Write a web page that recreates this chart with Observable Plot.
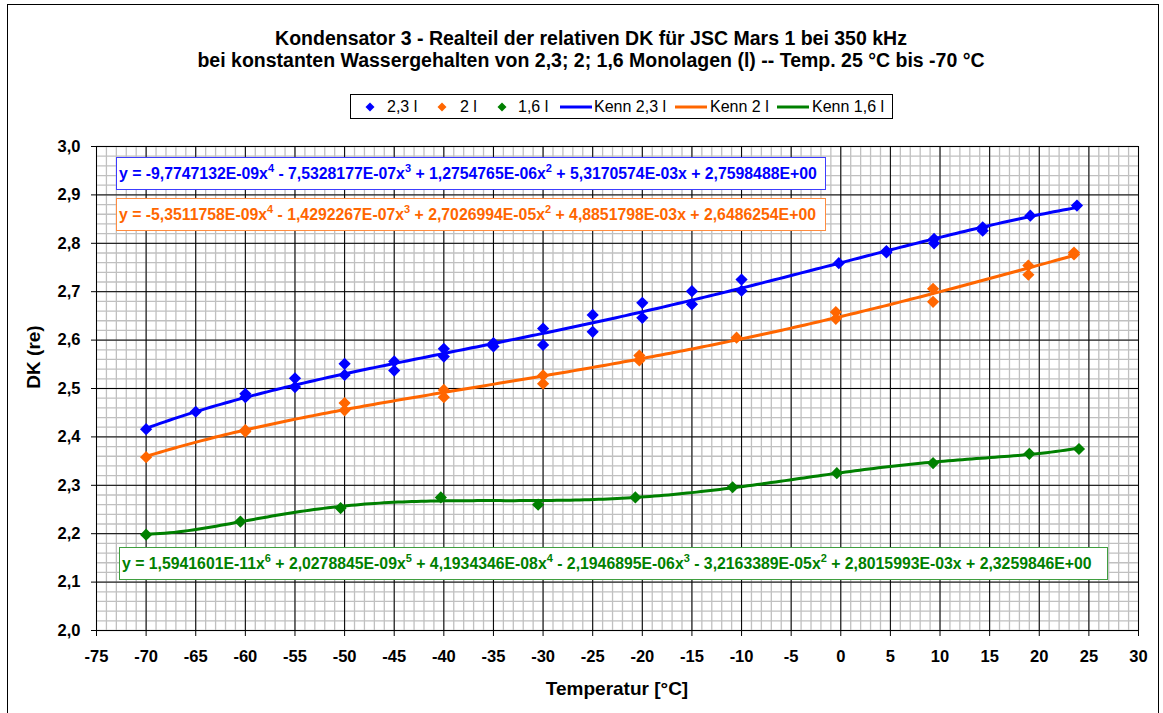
<!DOCTYPE html>
<html>
<head>
<meta charset="utf-8">
<script src="https://cdn.jsdelivr.net/npm/d3@7"></script>
<script src="https://cdn.jsdelivr.net/npm/@observablehq/plot@0.6"></script>
<style>
  html, body { margin: 0; padding: 0; background: #fff; }
  body { width: 1163px; height: 713px; position: relative; overflow: hidden; font-family: "Liberation Sans", Arial, sans-serif; }
  .abs { position: absolute; white-space: nowrap; }
  .title { left: 0; width: 1182px; text-align: center; font-weight: bold; font-size: 19.5px; color: #000; line-height: 22px; }
  .eq { position: absolute; background: #fff; font-weight: bold; font-size: 15.8px; padding-left: 2px; box-sizing: border-box; white-space: nowrap; }
  .eq sup { font-size: 11px; vertical-align: 0; position: relative; top: -7px; }
  .leg { font-size: 16px; color: #000; line-height: 18px; }
  #chart { position: absolute; left: 0; top: 0; }
</style>
</head>
<body>
<div id="chart"></div>
<script>
// ---- data ----
const temp23 = [-70, -65, -60, -60, -55, -55, -50, -50, -45, -45, -40, -40, -35, -35, -30, -30, -25, -25, -20, -20, -15, -15, -10, -10, -0.2, 4.6, 4.6, 9.4, 9.4, 14.3, 14.3, 19.1, 23.8];
const dk23   = [2.416, 2.452, 2.489, 2.482, 2.521, 2.503, 2.551, 2.528, 2.556, 2.537, 2.582, 2.566, 2.594, 2.587, 2.624, 2.590, 2.652, 2.617, 2.677, 2.646, 2.701, 2.674, 2.725, 2.702, 2.759, 2.784, 2.781, 2.809, 2.800, 2.833, 2.826, 2.857, 2.878];

const temp2 = [-70, -60, -60, -50, -50, -40, -40, -30, -30, -20.3, -20.3, -10.5, -0.5, -0.5, 9.3, 9.3, 18.9, 18.9, 23.5, 23.5];
const dk2   = [2.358, 2.414, 2.411, 2.470, 2.455, 2.497, 2.482, 2.527, 2.510, 2.568, 2.558, 2.605, 2.658, 2.644, 2.706, 2.679, 2.754, 2.735, 2.781, 2.777];

const temp16 = [-70, -60.5, -50.4, -40.3, -30.5, -20.7, -10.9, -0.4, 9.3, 19.0, 24.0];
const dk16   = [2.198, 2.225, 2.253, 2.275, 2.260, 2.275, 2.296, 2.325, 2.346, 2.365, 2.375];

// trendline coefficients as printed (highest power first)
const coef23 = [-9.7747132e-9, -7.5328177e-7, 1.2754765e-6, 5.3170574e-3, 2.7598488];
const coef2  = [-5.3511758e-9, -1.4292267e-7, 2.7026994e-5, 4.8851798e-3, 2.6486254];
const coef16 = [1.5941601e-11, 2.0278845e-9, 4.1934346e-8, -2.1946895e-6, -3.2163389e-5, 2.8015993e-3, 2.3259846];

const seriesNames = ["2,3 l", "2 l", "1,6 l"];
const trendNames = ["Kenn 2,3 l", "Kenn 2 l", "Kenn 1,6 l"];
const colors = ["#0000ff", "#ff6600", "#008000"];

const xTicks = [-75, -70, -65, -60, -55, -50, -45, -40, -35, -30, -25, -20, -15, -10, -5, 0, 5, 10, 15, 20, 25, 30];
const yTicks = [2.0, 2.1, 2.2, 2.3, 2.4, 2.5, 2.6, 2.7, 2.8, 2.9, 3.0];

const eqTexts = [
  'y = -9,7747132E-09x<sup>4</sup> - 7,5328177E-07x<sup>3</sup> + 1,2754765E-06x<sup>2</sup> + 5,3170574E-03x + 2,7598488E+00',
  'y = -5,3511758E-09x<sup>4</sup> - 1,4292267E-07x<sup>3</sup> + 2,7026994E-05x<sup>2</sup> + 4,8851798E-03x + 2,6486254E+00',
  'y = 1,5941601E-11x<sup>6</sup> + 2,0278845E-09x<sup>5</sup> + 4,1934346E-08x<sup>4</sup> - 2,1946895E-06x<sup>3</sup> - 3,2163389E-05x<sup>2</sup> + 2,8015993E-03x + 2,3259846E+00'
];

// ---- build tables ----
const pts = [
  ...temp23.map((t, i) => ({t, v: dk23[i], s: 0})),
  ...temp2.map((t, i) => ({t, v: dk2[i], s: 1})),
  ...temp16.map((t, i) => ({t, v: dk16[i], s: 2}))
];
const poly = (c, x) => c.reduce((acc, a) => acc * x + a, 0);
function trend(coef, temps, s) {
  const lo = d3.min(temps), hi = d3.max(temps);
  const n = 200;
  return d3.range(n + 1).map(i => { const t = lo + (hi - lo) * i / n; return {t, v: poly(coef, t), s}; });
}
const trends = [trend(coef23, temp23, 0), trend(coef2, temp2, 1), trend(coef16, temp16, 2)].flat();

const minorX = d3.range(-75, 31, 1);
const minorY = d3.range(0, 51).map(i => 2 + i * 0.02);
const fmtY = d => d.toFixed(1).replace(".", ",");

const chart = Plot.plot({
  width: 1163,
  height: 713,
  marginLeft: 96,
  marginRight: 25,
  marginTop: 146,
  marginBottom: 83,
  x: {domain: [-75, 30]},
  y: {domain: [2, 3]},
  style: {fontFamily: '"Liberation Sans", Arial, sans-serif', fontSize: "16.5px", fontWeight: "bold", background: "transparent", color: "#000"},
  marks: [
    Plot.ruleX(minorX, {stroke: "#c0c0c0", strokeWidth: 1.3}),
    Plot.ruleY(minorY, {stroke: "#c0c0c0", strokeWidth: 1.3}),
    Plot.ruleX(xTicks, {stroke: "#000", strokeWidth: 1}),
    Plot.ruleY(yTicks, {stroke: "#000", strokeWidth: 1}),
    Plot.axisX({ticks: xTicks, tickSize: 6, tickPadding: 14, tickFormat: d => String(d), label: null, stroke: "#000"}),
    Plot.axisY({ticks: yTicks, tickSize: 5, tickPadding: 11, tickFormat: fmtY, label: null, stroke: "#000"}),
    Plot.line(trends, {x: "t", y: "v", z: "s", stroke: d => colors[d.s], strokeWidth: 3}),
    Plot.dot(pts, {x: "t", y: "v", symbol: "diamond2", r: 5.5, fill: d => colors[d.s], stroke: "none"})
  ]
});
document.getElementById("chart").appendChild(chart);

// ---- titles ----
const body = document.body;
function addDiv(cls, html, css) {
  const d = document.createElement("div");
  d.className = cls;
  d.innerHTML = html;
  Object.assign(d.style, css);
  body.appendChild(d);
  return d;
}
addDiv("abs title", "Kondensator 3 - Realteil der relativen DK für JSC Mars 1 bei 350 kHz", {top: "27px"});
addDiv("abs title", "bei konstanten Wassergehalten von 2,3; 2; 1,6 Monolagen (l) -- Temp. 25 °C bis -70 °C", {top: "49px"});

// axis titles
addDiv("abs", "Temperatur [°C]", {left: "96px", width: "1042px", textAlign: "center", top: "678px", fontWeight: "bold", fontSize: "19px", lineHeight: "22px"});
addDiv("abs", "DK (re)", {left: "-16px", top: "346px", width: "100px", textAlign: "center", fontWeight: "bold", fontSize: "19px", lineHeight: "22px", transform: "rotate(-90deg)"});

// equation boxes
const eqBoxes = [
  {left: 116, top: 157, width: 710, height: 33, border: "#3c3cff"},
  {left: 116, top: 198, width: 710, height: 33, border: "#ff8c40"},
  {left: 119, top: 547, width: 989, height: 33, border: "#3f9f3f"}
];
eqBoxes.forEach((b, i) => {
  addDiv("eq", eqTexts[i], {left: b.left + "px", top: b.top + "px", width: b.width + "px", height: b.height + "px", lineHeight: (b.height - 2) + "px", border: "1px solid " + b.border, color: colors[i]});
});

// legend
addDiv("abs", "", {left: "350px", top: "94px", width: "543px", height: "25px", border: "1px solid #000", background: "#fff", boxSizing: "border-box"});
const legSym = [370, 442, 502];
const legSymText = [387, 460, 518];
const legLine = [[560, 592], [675, 707], [777, 809]];
const legLineText = [594, 710, 812];
const cy = 107;
const svgNS = "http://www.w3.org/2000/svg";
const ls = document.createElementNS(svgNS, "svg");
ls.setAttribute("width", 1163); ls.setAttribute("height", 140);
ls.style.position = "absolute"; ls.style.left = "0"; ls.style.top = "0";
body.appendChild(ls);
seriesNames.forEach((name, i) => {
  const p = document.createElementNS(svgNS, "path");
  const x = legSym[i], r = 4.5;
  p.setAttribute("d", `M${x},${cy - r}L${x + r},${cy}L${x},${cy + r}L${x - r},${cy}Z`);
  p.setAttribute("fill", colors[i]);
  ls.appendChild(p);
  addDiv("abs leg", name, {left: legSymText[i] + "px", top: (cy - 9) + "px"});
  const l = document.createElementNS(svgNS, "line");
  l.setAttribute("x1", legLine[i][0]); l.setAttribute("x2", legLine[i][1]);
  l.setAttribute("y1", cy); l.setAttribute("y2", cy);
  l.setAttribute("stroke", colors[i]); l.setAttribute("stroke-width", 3);
  ls.appendChild(l);
  addDiv("abs leg", trendNames[i], {left: legLineText[i] + "px", top: (cy - 9) + "px"});
});

// outer chart-area border
addDiv("abs", "", {left: "7px", top: "4px", width: "1152px", height: "730px", border: "1px solid #000", boxSizing: "border-box", pointerEvents: "none"});
</script>
</body>
</html>
